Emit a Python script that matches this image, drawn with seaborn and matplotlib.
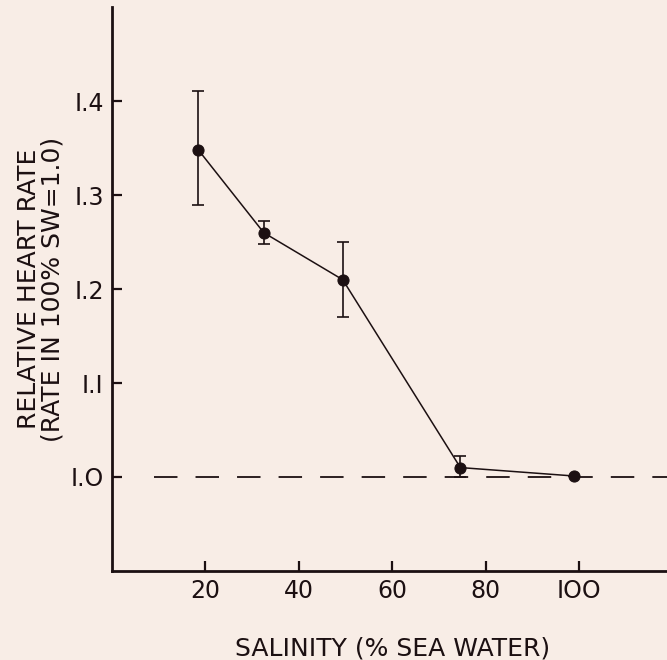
import matplotlib
matplotlib.use("Agg")
from matplotlib import pyplot as plt
import numpy as np
import pandas as pd
import seaborn as sns

salinity = [18.5, 32.5, 49.4, 74.6, 99.0]
rel_rate = [1.348, 1.260, 1.210, 1.010, 1.001]
err_low = [1.290, 1.248, 1.170, 1.000, 1.001]
err_high = [1.411, 1.272, 1.250, 1.022, 1.001]
x_ticks = [20, 40, 60, 80, 100]
x_ticklabels = ["20", "40", "60", "80", "IOO"]
y_ticks = [1.0, 1.1, 1.2, 1.3, 1.4]
y_ticklabels = ["I.O", "I.I", "I.2", "I.3", "I.4"]

bg = "#f8ede6"
ink = "#1c1012"

sns.set_style("ticks")
plt.rcParams["font.family"] = ["DejaVu Sans"]

df = pd.DataFrame({"salinity": salinity, "rate": rel_rate})

fig = plt.figure(figsize=(6.67, 6.6), dpi=100, facecolor=bg)
ax = fig.add_axes([0.168, 0.135, 0.84, 0.854])
ax.set_facecolor(bg)

# reference line at 100% sea water rate
ax.axhline(1.0, xmin=0.075, color=ink, lw=1.3, dashes=(13, 10), zorder=1)

yerr = [np.array(rel_rate) - np.array(err_low), np.array(err_high) - np.array(rel_rate)]
ax.errorbar(salinity, rel_rate, yerr=yerr, fmt="none", ecolor=ink,
            elinewidth=1.2, capsize=4, capthick=1.2, zorder=2)
sns.lineplot(data=df, x="salinity", y="rate", ax=ax, color=ink, lw=1.1,
             marker="o", markersize=8, markeredgecolor=ink, zorder=3)

ax.set_xlim(0, 120)
ax.set_ylim(0.9, 1.5)
ax.set_xticks(x_ticks)
ax.set_xticklabels(x_ticklabels)
ax.set_yticks(y_ticks)
ax.set_yticklabels(y_ticklabels)
ax.tick_params(direction="in", length=7, width=1.6, colors=ink,
               labelsize=17, pad=6)

sns.despine(ax=ax)
for s in ["left", "bottom"]:
    ax.spines[s].set_linewidth(2.0)
    ax.spines[s].set_color(ink)

ax.set_xlabel("SALINITY (% SEA WATER)", fontsize=18, color=ink, labelpad=24)
ax.set_ylabel("RELATIVE HEART RATE\n(RATE IN 100% SW=1.0)", fontsize=18,
              color=ink, labelpad=4, linespacing=1.0)

fig.savefig("out.png", dpi=100, facecolor=bg)
